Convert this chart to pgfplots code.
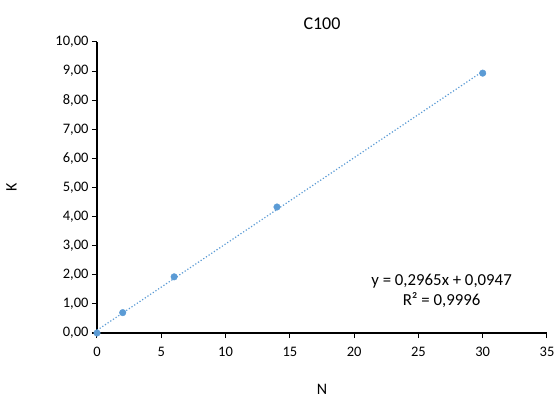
\documentclass[border=0pt]{standalone}
\usepackage{pgfplots}
\pgfplotsset{compat=1.18}
\usepackage{fontspec}
\setmainfont{Carlito}
\definecolor{exblue}{HTML}{5B9BD5}
\begin{document}
\begin{tikzpicture}[x=1pt,y=1pt]
\path[use as bounding box] (-97,-66) rectangle (458,333);
\begin{axis}[
  at={(0,0)}, anchor=origin,
  scale only axis, width=450pt, height=291pt,
  xmin=0, xmax=35, ymin=0, ymax=10,
  xtick={0,5,...,35}, ytick={0,1,...,10},
  axis x line*=bottom, axis y line*=left,
  axis line style={line width=1.4pt, black, -},
  tick style={line width=1pt, black},
  tick align=outside, major tick length=5pt,
  /pgf/number format/assume math mode=true,
  yticklabel style={/pgf/number format/.cd, fixed, fixed zerofill, precision=2, use comma},
  xticklabel style={yshift=-6pt, /pgf/number format/.cd, fixed, precision=0},
  ticklabel style={font=\fontsize{14.5}{16}\selectfont},
  title={C100}, title style={font=\fontsize{18}{20}\selectfont, at={(0.5,1)}, yshift=3pt},
  xlabel={N}, ylabel={K},
  xlabel style={font=\fontsize{16}{18}\selectfont, yshift=-20pt},
  ylabel style={font=\fontsize{16}{18}\selectfont, yshift=32pt},
  clip=false,
]
\addplot[exblue, line width=1.2pt, dotted] coordinates {(0,0.0947) (30,8.9897)};
\addplot[only marks, mark=*, mark size=3.3pt, color=exblue, mark options={draw=exblue, fill=exblue}] coordinates {
(0,0) (2,0.70) (6,1.93) (14,4.33) (30,8.93)};
\node[font=\fontsize{16.8}{20}\selectfont, align=center] at (axis cs:26.8,1.44) {y = 0,2965x + 0,0947\\R² = 0,9996};
\end{axis}
\end{tikzpicture}
\end{document}
